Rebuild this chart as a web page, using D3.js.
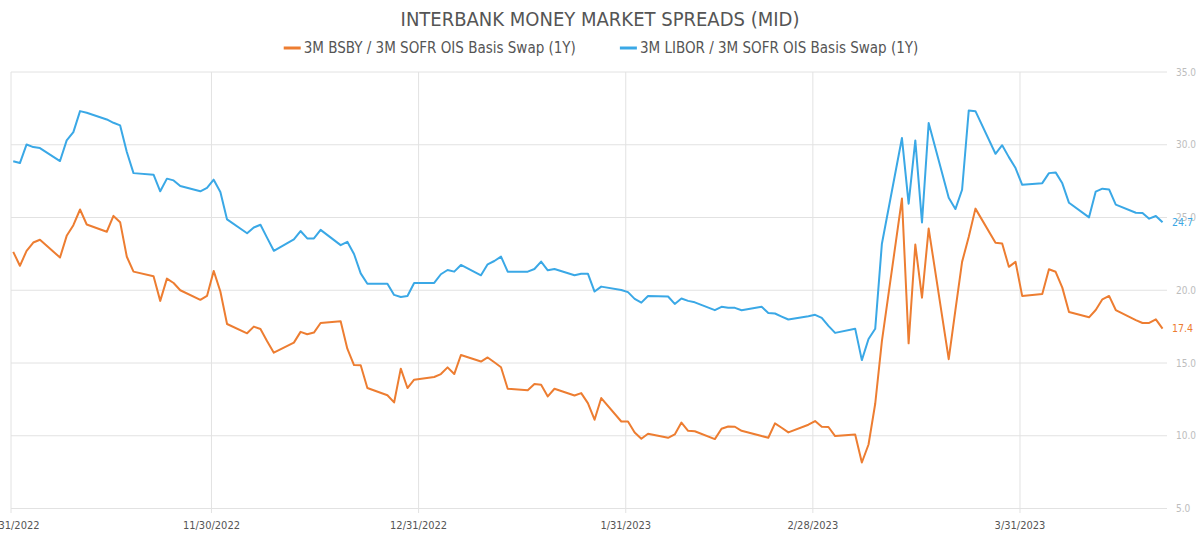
<!DOCTYPE html>
<html>
<head>
<meta charset="utf-8">
<script src="https://d3js.org/d3.v7.min.js"></script>
<style>
  body { margin: 0; background: #fff; }
  text { font-family: 'Liberation Sans Narrow', 'DejaVu Sans Condensed', Roboto, sans-serif; }
</style>
</head>
<body>
<div id="chart"></div>
<script>
// business days shown on the chart
var dates = [
  "2022-10-31",
  "2022-11-01","2022-11-02","2022-11-03","2022-11-04",
  "2022-11-07","2022-11-08","2022-11-09","2022-11-10","2022-11-11",
  "2022-11-14","2022-11-15","2022-11-16","2022-11-17","2022-11-18",
  "2022-11-21","2022-11-22","2022-11-23","2022-11-24","2022-11-25",
  "2022-11-28","2022-11-29","2022-11-30","2022-12-01","2022-12-02",
  "2022-12-05","2022-12-06","2022-12-07","2022-12-08","2022-12-09",
  "2022-12-12","2022-12-13","2022-12-14","2022-12-15","2022-12-16",
  "2022-12-19","2022-12-20","2022-12-21","2022-12-22","2022-12-23",
  "2022-12-26","2022-12-27","2022-12-28","2022-12-29","2022-12-30",
  "2023-01-02","2023-01-03","2023-01-04","2023-01-05","2023-01-06",
  "2023-01-09","2023-01-10","2023-01-11","2023-01-12","2023-01-13",
  "2023-01-16","2023-01-17","2023-01-18","2023-01-19","2023-01-20",
  "2023-01-23","2023-01-24","2023-01-25","2023-01-26","2023-01-27",
  "2023-01-30","2023-01-31","2023-02-01","2023-02-02","2023-02-03",
  "2023-02-06","2023-02-07","2023-02-08","2023-02-09","2023-02-10",
  "2023-02-13","2023-02-14","2023-02-15","2023-02-16","2023-02-17",
  "2023-02-20","2023-02-21","2023-02-22","2023-02-23","2023-02-24",
  "2023-02-27","2023-02-28","2023-03-01","2023-03-02","2023-03-03",
  "2023-03-06","2023-03-07","2023-03-08","2023-03-09","2023-03-10",
  "2023-03-13","2023-03-14","2023-03-15","2023-03-16","2023-03-17",
  "2023-03-20","2023-03-21","2023-03-22","2023-03-23","2023-03-24",
  "2023-03-27","2023-03-28","2023-03-29","2023-03-30","2023-03-31",
  "2023-04-03","2023-04-04","2023-04-05","2023-04-06","2023-04-07",
  "2023-04-10","2023-04-11","2023-04-12","2023-04-13","2023-04-14",
  "2023-04-17","2023-04-18","2023-04-19","2023-04-20","2023-04-21"
];

// 3M BSBY / 3M SOFR OIS basis swap (1Y)
var bsby = [
  22.64,
  21.68,22.71,23.28,23.47,
  22.25,23.74,24.47,25.55,24.52,
  24.02,25.11,24.68,22.30,21.28,
  20.96,19.27,20.80,20.50,20.00,
  19.34,19.61,21.33,19.91,17.68,
  17.04,17.50,17.34,16.50,15.71,
  16.40,17.14,16.98,17.09,17.75,
  17.87,15.98,14.86,14.85,13.28,
  12.78,12.29,14.61,13.28,13.85,
  14.04,14.24,14.70,14.24,15.55,
  15.10,15.38,15.05,14.71,13.23,
  13.13,13.55,13.50,12.70,13.23,
  12.77,12.93,12.24,11.10,12.59,
  10.98,10.98,10.23,9.79,10.14,
  9.86,10.09,10.91,10.34,10.31,
  9.77,10.48,10.64,10.62,10.34,
  9.98,9.86,10.85,10.55,10.23,
  10.76,11.01,10.62,10.60,9.98,
  10.09,8.16,9.40,12.20,16.50,
  26.30,16.35,23.14,19.49,24.24,
  15.26,18.64,21.95,23.67,25.61,
  23.26,23.21,21.61,21.95,19.60,
  19.74,21.44,21.27,20.18,18.50,
  18.14,18.64,19.38,19.61,18.64,
  17.95,17.75,17.75,18.00,17.36
];

// 3M LIBOR / 3M SOFR OIS basis swap (1Y)
var libor = [
  28.86,
  28.74,30.02,29.84,29.77,
  28.88,30.30,30.87,32.31,32.20,
  31.74,31.51,31.33,29.50,28.05,
  27.94,26.80,27.67,27.55,27.16,
  26.80,27.03,27.60,26.75,24.87,
  23.92,24.31,24.50,23.60,22.71,
  23.49,24.07,23.56,23.56,24.15,
  23.10,23.33,22.49,21.16,20.45,
  20.45,19.68,19.54,19.60,20.50,
  20.50,21.10,21.39,21.28,21.74,
  21.03,21.78,22.01,22.31,21.28,
  21.28,21.46,21.97,21.37,21.46,
  21.03,21.14,21.14,19.91,20.25,
  20.02,19.87,19.41,19.15,19.61,
  19.57,19.06,19.43,19.27,19.17,
  18.63,18.86,18.79,18.79,18.63,
  18.86,18.44,18.40,18.19,17.99,
  18.22,18.31,18.10,17.55,17.07,
  17.36,15.20,16.65,17.35,23.20,
  30.46,25.95,30.30,24.66,31.49,
  26.35,25.58,26.91,32.36,32.31,
  29.38,29.97,29.15,28.40,27.25,
  27.36,28.05,28.10,27.35,26.01,
  25.01,26.78,26.98,26.93,25.88,
  25.33,25.31,24.92,25.10,24.67
];

var seriesNames = ["3M BSBY / 3M SOFR OIS Basis Swap (1Y)", "3M LIBOR / 3M SOFR OIS Basis Swap (1Y)"];
var colors = ["#ED7D31", "#3AA8E6"];
var tickDates = ["2022-10-31", "2022-11-30", "2022-12-31", "2023-01-31", "2023-02-28", "2023-03-31"];
var yTicks = [5, 10, 15, 20, 25, 30, 35];

var width = 1200, height = 533;
var parse = d3.timeParse("%Y-%m-%d");
var fmtTick = d3.timeFormat("%-m/%-d/%Y");

// observations are stamped a few hours into the day
function obsTime(s) { return d3.timeHour.offset(parse(s), 8); }

var svg = d3.select("#chart").append("svg")
  .attr("width", width)
  .attr("height", height);

var x = d3.scaleTime()
  .domain([parse("2022-10-31"), parse("2023-04-22")])
  .range([11, 1167]);

var y = d3.scaleLinear()
  .domain([5, 35])
  .range([508.5, 72]);

// horizontal grid + right labels
svg.append("g")
  .selectAll("line")
  .data(yTicks)
  .enter().append("line")
  .attr("x1", 11)
  .attr("x2", 1167)
  .attr("y1", function(d) { return y(d); })
  .attr("y2", function(d) { return y(d); })
  .attr("stroke", "#e2e2e2")
  .attr("stroke-width", 1);

svg.append("g")
  .selectAll("text")
  .data(yTicks)
  .enter().append("text")
  .attr("x", 1176)
  .attr("y", function(d) { return y(d); })
  .attr("dy", "0.35em")
  .attr("fill", "#bdbdbd")
  .style("font-size", "10px")
  .text(function(d) { return d.toFixed(1); });

// vertical grid + date labels
svg.append("g")
  .selectAll("line")
  .data(tickDates)
  .enter().append("line")
  .attr("x1", function(d) { return x(parse(d)); })
  .attr("x2", function(d) { return x(parse(d)); })
  .attr("y1", 72)
  .attr("y2", 513)
  .attr("stroke", "#e2e2e2")
  .attr("stroke-width", 1);

svg.append("g")
  .selectAll("text")
  .data(tickDates)
  .enter().append("text")
  .attr("x", function(d) { return x(parse(d)); })
  .attr("y", 525)
  .attr("dy", "0.35em")
  .attr("text-anchor", "middle")
  .attr("fill", "#555")
  .style("font-size", "11px")
  .text(function(d) { return fmtTick(parse(d)); });

// lines
var line = d3.line()
  .x(function(d, i) { return x(obsTime(dates[i])); })
  .y(function(d) { return y(d); });

[bsby, libor].forEach(function(s, k) {
  svg.append("path")
    .datum(s)
    .attr("fill", "none")
    .attr("stroke", colors[k])
    .attr("stroke-width", 2)
    .attr("stroke-linejoin", "round")
    .attr("d", line);

  // last value label
  var last = s[s.length - 1];
  svg.append("text")
    .attr("x", 1172)
    .attr("y", y(last))
    .attr("dy", "0.35em")
    .attr("fill", colors[k])
    .style("font-size", "10.5px")
    .text(last.toFixed(1));
});

// title
svg.append("text")
  .attr("x", 600)
  .attr("y", 19)
  .attr("dy", "0.35em")
  .attr("text-anchor", "middle")
  .attr("fill", "#555")
  .style("font-size", "20px")
  .text("INTERBANK MONEY MARKET SPREADS (MID)");

// legend
var legend = svg.append("g");
var xpos = 0;
seriesNames.forEach(function(name, k) {
  var item = legend.append("g").attr("transform", "translate(" + xpos + ",0)");
  item.append("line")
    .attr("x1", 0).attr("x2", 17)
    .attr("y1", 48).attr("y2", 48)
    .attr("stroke", colors[k])
    .attr("stroke-width", 3);
  var t = item.append("text")
    .attr("x", 20)
    .attr("y", 48)
    .attr("dy", "0.35em")
    .attr("fill", "#555")
    .style("font-size", "15px")
    .text(name);
  xpos += 20 + t.node().getComputedTextLength() + 44;
});
var legendW = xpos - 44;
legend.attr("transform", "translate(" + (601 - legendW / 2) + ",0)");
</script>
</body>
</html>
